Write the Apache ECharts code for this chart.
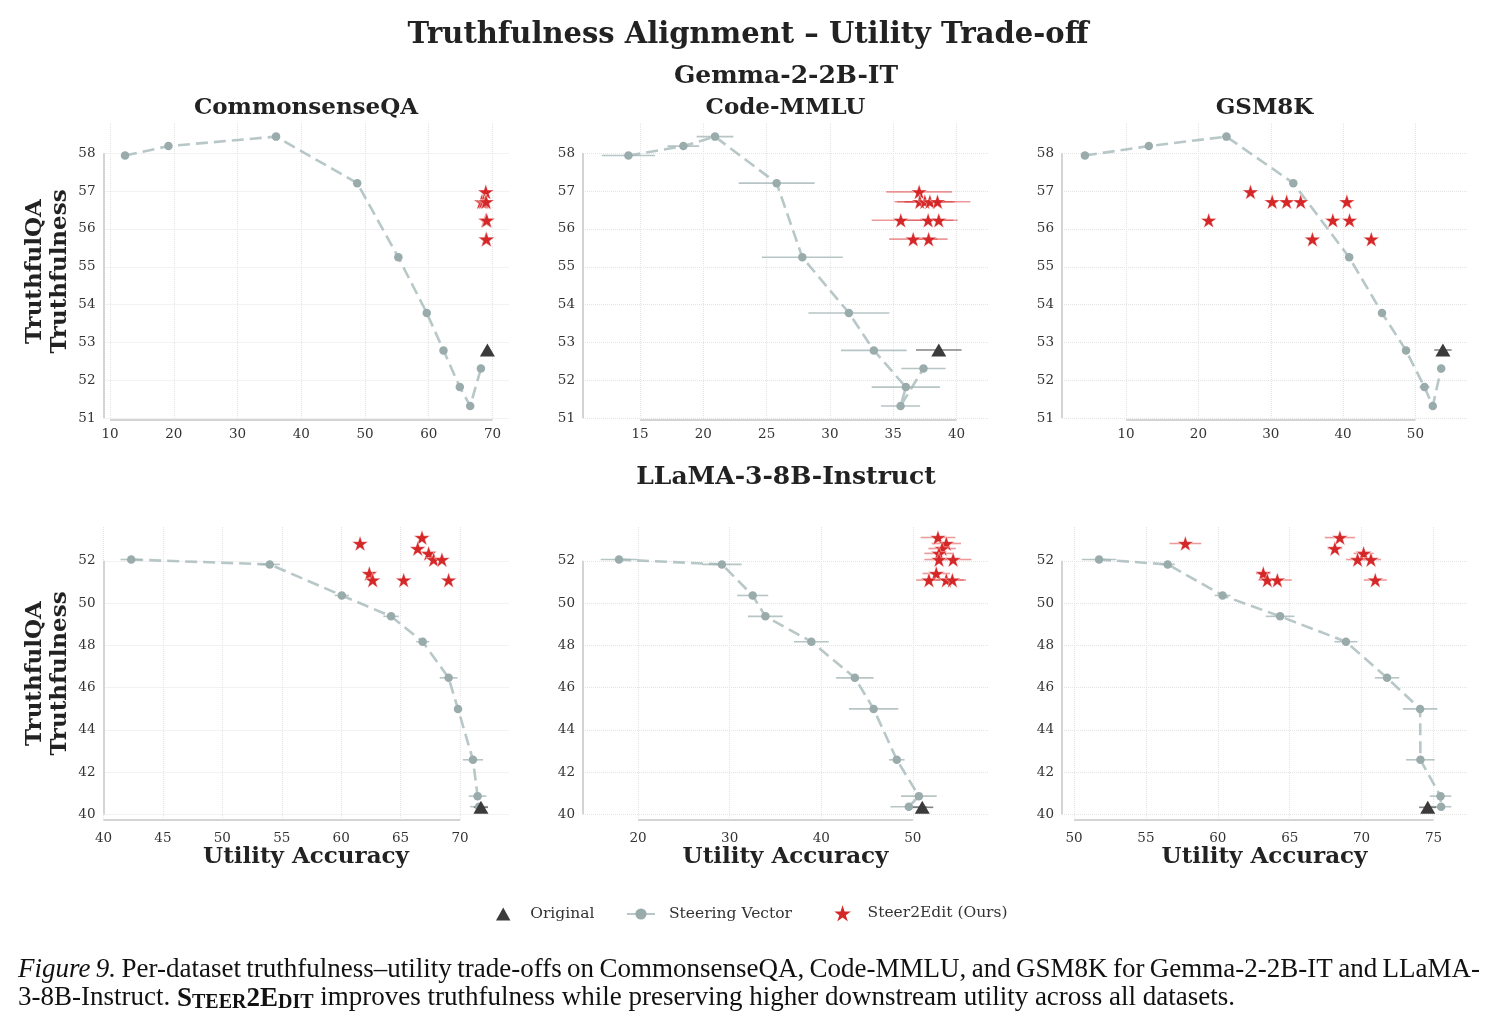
<!DOCTYPE html>
<html><head><meta charset="utf-8">
<script src="https://cdn.jsdelivr.net/npm/echarts@6/dist/echarts.min.js"></script>
<style>html,body{margin:0;padding:0;background:#fff}#c{width:1496px;height:1030px}</style>
</head><body><div id="c"></div><script>
// ---------------- DATA ----------------
const GEMMA_Y_TICKS = [51, 52, 53, 54, 55, 56, 57, 58];
const LLAMA_Y_TICKS = [40, 42, 44, 46, 48, 50, 52];
const CSQA_GEMMA_X_TICKS = [10, 20, 30, 40, 50, 60, 70];
const CODE_GEMMA_X_TICKS = [15, 20, 25, 30, 35, 40];
const GSM_GEMMA_X_TICKS = [10, 20, 30, 40, 50];
const CSQA_LLAMA_X_TICKS = [40, 45, 50, 55, 60, 65, 70];
const CODE_LLAMA_X_TICKS = [20, 30, 40, 50];
const GSM_LLAMA_X_TICKS = [50, 55, 60, 65, 70, 75];

const GEMMA_SV_Y = [57.94, 58.19, 58.44, 57.21, 55.25, 53.78, 52.79, 51.82, 51.32, 52.31];
const GEMMA_STAR_Y = [56.98, 56.72, 56.72, 56.72, 56.72, 56.23, 56.23, 56.23, 55.73, 55.73];
const LLAMA_SV_Y = [52.06, 51.83, 50.36, 49.37, 48.17, 46.46, 44.99, 42.58, 40.86, 40.36];
const LLAMA_STAR_Y = [53.1, 52.82, 52.58, 52.35, 52.06, 52.06, 51.4, 51.09, 51.09, 51.09];

const CSQA_GEMMA_SV_X = [12.36, 19.17, 36.05, 48.78, 55.23, 59.69, 62.31, 64.87, 66.5, 68.18];
const CSQA_GEMMA_SV_ERR = [0.2, 0.25, 0.4, 0.45, 0.25, 0.25, 0.25, 0.3, 0.25, 0.3];
const CSQA_GEMMA_ORIG = [69.2, 52.8, 0.2];
const CSQA_GEMMA_STAR_X = [68.95, 68.3, 68.6, 68.9, 69.0, 68.95, 69.05, 69.1, 69.0, 69.05];
const CSQA_GEMMA_STAR_ERR = [0.3, 0.3, 0.3, 0.3, 0.3, 0.3, 0.3, 0.3, 0.2, 0.2];

const CODE_GEMMA_SV_X = [14.08, 18.42, 20.92, 25.79, 27.82, 31.5, 33.47, 36.0, 35.58, 37.39];
const CODE_GEMMA_SV_ERR = [2.1, 1.25, 1.45, 3.0, 3.2, 3.2, 2.6, 2.7, 1.55, 1.75];
const CODE_GEMMA_ORIG = [38.6, 52.8, 1.8];
const CODE_GEMMA_STAR_X = [37.05, 37.1, 37.5, 37.9, 38.5, 35.6, 37.76, 38.6, 36.58, 37.8];
const CODE_GEMMA_STAR_ERR = [2.6, 2.0, 2.2, 2.0, 2.6, 2.3, 2.0, 1.5, 1.9, 1.5];

const GSM_GEMMA_SV_X = [4.31, 13.14, 23.87, 33.12, 40.84, 45.38, 48.7, 51.25, 52.4, 53.56];
const GSM_GEMMA_SV_ERR = [0.2, 0.3, 0.6, 0.3, 0.3, 0.3, 0.3, 0.7, 0.3, 0.5];
const GSM_GEMMA_ORIG = [53.8, 52.8, 1.2];
const GSM_GEMMA_STAR_X = [27.2, 30.2, 32.2, 34.14, 40.52, 21.42, 38.58, 40.89, 35.76, 43.9];
const GSM_GEMMA_STAR_ERR = [0.4, 0.3, 0.3, 0.3, 0.3, 0.4, 0.3, 0.4, 0.3, 0.3];

const CSQA_LLAMA_SV_X = [42.33, 53.99, 60.05, 64.2, 66.86, 69.04, 69.83, 71.09, 71.48, 71.6];
const CSQA_LLAMA_SV_ERR = [0.9, 0.85, 0.6, 0.65, 0.55, 0.75, 0.3, 0.85, 0.75, 0.75];
const CSQA_LLAMA_ORIG = [71.76, 40.33, 0.6];
const CSQA_LLAMA_STAR_X = [66.8, 61.59, 66.44, 67.36, 67.78, 68.48, 62.37, 62.65, 65.26, 69.04];
const CSQA_LLAMA_STAR_ERR = [0.3, 0.2, 0.4, 0.5, 0.4, 0.3, 0.5, 0.3, 0.3, 0.3];

const CODE_LLAMA_SV_X = [17.91, 29.15, 32.51, 33.9, 38.92, 43.67, 45.72, 48.25, 50.66, 49.56];
const CODE_LLAMA_SV_ERR = [2.0, 2.15, 1.7, 1.9, 1.9, 2.05, 2.7, 0.85, 1.95, 2.0];
const CODE_LLAMA_ORIG = [51.03, 40.33, 1.2];
const CODE_LLAMA_STAR_X = [52.75, 53.66, 53.2, 52.86, 52.86, 54.4, 52.56, 51.76, 53.66, 54.32];
const CODE_LLAMA_STAR_ERR = [1.9, 1.6, 1.5, 1.6, 1.6, 2.0, 1.5, 1.4, 1.9, 1.5];

const GSM_LLAMA_SV_X = [51.74, 56.51, 60.33, 64.33, 68.91, 71.77, 74.07, 74.09, 75.49, 75.53];
const GSM_LLAMA_SV_ERR = [1.2, 0.5, 0.55, 1.0, 0.8, 0.85, 1.2, 1.0, 0.75, 0.7];
const GSM_LLAMA_ORIG = [74.6, 40.33, 0.6];
const GSM_LLAMA_STAR_X = [68.49, 57.74, 68.14, 70.14, 69.72, 70.65, 63.16, 63.44, 64.14, 70.95];
const GSM_LLAMA_STAR_ERR = [1.05, 1.1, 0.5, 0.7, 0.8, 0.7, 0.5, 0.6, 1.0, 0.8];

const DATASETS = ['CommonsenseQA', 'Code-MMLU', 'GSM8K'];
const MODELS = ['Gemma-2-2B-IT', 'LLaMA-3-8B-Instruct'];
const LEGEND_NAMES = ['Original', 'Steering Vector', 'Steer2Edit (Ours)'];

// ---------------- PANELS ----------------
const PANELS = [
  {svX: CSQA_GEMMA_SV_X, svE: CSQA_GEMMA_SV_ERR, svY: GEMMA_SV_Y, orig: CSQA_GEMMA_ORIG, stX: CSQA_GEMMA_STAR_X, stE: CSQA_GEMMA_STAR_ERR, stY: GEMMA_STAR_Y, xT: CSQA_GEMMA_X_TICKS, yT: GEMMA_Y_TICKS},
  {svX: CODE_GEMMA_SV_X, svE: CODE_GEMMA_SV_ERR, svY: GEMMA_SV_Y, orig: CODE_GEMMA_ORIG, stX: CODE_GEMMA_STAR_X, stE: CODE_GEMMA_STAR_ERR, stY: GEMMA_STAR_Y, xT: CODE_GEMMA_X_TICKS, yT: GEMMA_Y_TICKS},
  {svX: GSM_GEMMA_SV_X, svE: GSM_GEMMA_SV_ERR, svY: GEMMA_SV_Y, orig: GSM_GEMMA_ORIG, stX: GSM_GEMMA_STAR_X, stE: GSM_GEMMA_STAR_ERR, stY: GEMMA_STAR_Y, xT: GSM_GEMMA_X_TICKS, yT: GEMMA_Y_TICKS},
  {svX: CSQA_LLAMA_SV_X, svE: CSQA_LLAMA_SV_ERR, svY: LLAMA_SV_Y, orig: CSQA_LLAMA_ORIG, stX: CSQA_LLAMA_STAR_X, stE: CSQA_LLAMA_STAR_ERR, stY: LLAMA_STAR_Y, xT: CSQA_LLAMA_X_TICKS, yT: LLAMA_Y_TICKS},
  {svX: CODE_LLAMA_SV_X, svE: CODE_LLAMA_SV_ERR, svY: LLAMA_SV_Y, orig: CODE_LLAMA_ORIG, stX: CODE_LLAMA_STAR_X, stE: CODE_LLAMA_STAR_ERR, stY: LLAMA_STAR_Y, xT: CODE_LLAMA_X_TICKS, yT: LLAMA_Y_TICKS},
  {svX: GSM_LLAMA_SV_X, svE: GSM_LLAMA_SV_ERR, svY: LLAMA_SV_Y, orig: GSM_LLAMA_ORIG, stX: GSM_LLAMA_STAR_X, stE: GSM_LLAMA_STAR_ERR, stY: LLAMA_STAR_Y, xT: GSM_LLAMA_X_TICKS, yT: LLAMA_Y_TICKS}
];

// layout (pixel boxes and axis ranges)
const COL_LEFT = [103.5, 583, 1062];
const COL_W = 405;
const ROW = [{top: 123, height: 297, yMin: 50.95, yMax: 58.8, xMargin: 7},
             {top: 527, height: 293, yMin: 39.73, yMax: 53.6, xMargin: 11}];
const X_RANGE = [[8.98, 72.51], [10.49, 42.49], [1.14, 57.13], [40.0, 74.08], [13.98, 58.21], [49.16, 77.33]];

const FONT = '"DejaVu Serif", serif';
const STAR = 'path://M50,0 L61.23,34.55 L97.55,34.55 L68.17,55.9 L79.39,90.45 L50,69.1 L20.61,90.45 L31.83,55.9 L2.45,34.55 L38.77,34.55 Z';
const TRI = 'path://M50,0 L100,90 L0,90 Z';

function errBars(gi, xs, ys, es, color, z) {
  return {
    type: 'custom', name: 'err', xAxisIndex: gi, yAxisIndex: gi, z: z, silent: true,
    encode: {x: 0, y: 1},
    data: xs.map((x, j) => [x, ys[j], es[j]]),
    renderItem: function (params, api) {
      const x = api.value(0), y = api.value(1), e = api.value(2);
      const a = api.coord([x - e, y]), b = api.coord([x + e, y]);
      return {type: 'line', shape: {x1: a[0], y1: a[1], x2: b[0], y2: b[1]}, style: {stroke: color, lineWidth: 1.6}};
    }
  };
}

const grids = [], xAxes = [], yAxes = [], series = [];
PANELS.forEach((p, i) => {
  const r = ROW[Math.floor(i / 3)], c = i % 3;
  const [xMin, xMax] = X_RANGE[i];
  grids.push({left: COL_LEFT[c], top: r.top, width: COL_W, height: r.height, containLabel: false, outerBoundsMode: 'none'});
  xAxes.push({
    type: 'value', gridIndex: i, min: xMin, max: xMax,
    axisLine: {show: false}, axisTick: {show: false, customValues: p.xT},
    axisLabel: {customValues: p.xT, fontFamily: FONT, fontSize: 13.5, color: '#333', margin: r.xMargin},
    splitLine: {show: true, lineStyle: {color: '#e4e4e4', type: 'dotted', width: 1}}
  });
  yAxes.push({
    type: 'value', gridIndex: i, min: r.yMin, max: r.yMax,
    axisLine: {show: false}, axisTick: {show: false, customValues: p.yT},
    axisLabel: {customValues: p.yT, fontFamily: FONT, fontSize: 13.5, color: '#333', margin: 8},
    splitLine: {show: true, lineStyle: {color: '#e4e4e4', type: 'dotted', width: 1}}
  });
  series.push(errBars(i, p.svX, p.svY, p.svE, 'rgba(160,178,178,0.75)', 2));
  series.push(errBars(i, p.stX, p.stY, p.stE, 'rgba(222,70,70,0.55)', 2));
  series.push(errBars(i, [p.orig[0]], [p.orig[1]], [p.orig[2]], 'rgba(90,90,90,0.75)', 2));
  series.push({
    type: 'line', name: LEGEND_NAMES[1], xAxisIndex: i, yAxisIndex: i, z: 3,
    data: p.svX.map((x, j) => [x, p.svY[j]]),
    symbol: 'circle', symbolSize: 8.5, showSymbol: true,
    itemStyle: {color: '#9aabac', opacity: 1},
    lineStyle: {color: 'rgba(160,180,180,0.75)', width: 2.6, type: [12, 6]},
    silent: true,
    markLine: {
      silent: true, symbol: ['none', 'none'], label: {show: false},
      lineStyle: {color: '#d4d4d4', width: 2, type: 'solid'},
      emphasis: {disabled: true},
      data: [
        [{coord: [xMin, p.yT[0]]}, {coord: [xMin, p.yT[p.yT.length - 1]]}],
        [{coord: [p.xT[0], r.yMin]}, {coord: [p.xT[p.xT.length - 1], r.yMin]}]
      ]
    }
  });
  series.push({
    type: 'scatter', name: LEGEND_NAMES[2], xAxisIndex: i, yAxisIndex: i, z: 5,
    data: p.stX.map((x, j) => [x, p.stY[j]]),
    symbol: STAR, symbolKeepAspect: true, symbolSize: 16,
    itemStyle: {color: '#d62728', borderColor: '#ffffff', borderWidth: 0.4, opacity: 1},
    silent: true
  });
  series.push({
    type: 'scatter', name: LEGEND_NAMES[0], xAxisIndex: i, yAxisIndex: i, z: 6,
    data: [[p.orig[0], p.orig[1]]],
    symbol: 'triangle', symbolSize: [15, 13],
    itemStyle: {color: '#3b3b3b', opacity: 1},
    silent: true
  });
});

// text elements
const TB = 'bold 23px "DejaVu Serif"';
const TM = 'bold 25px "DejaVu Serif"';
const graphics = [
  {type: 'text', x: 748, y: 35, style: {text: 'Truthfulness Alignment – Utility Trade-off', font: 'bold 29px "DejaVu Serif"', fill: '#222', align: 'center', verticalAlign: 'middle'}},
  {type: 'text', x: 786, y: 76, style: {text: MODELS[0], font: TM, fill: '#222', align: 'center', verticalAlign: 'middle'}},
  {type: 'text', x: 786, y: 477, style: {text: MODELS[1], font: TM, fill: '#222', align: 'center', verticalAlign: 'middle'}}
];
DATASETS.forEach((d, c) => {
  graphics.push({type: 'text', x: COL_LEFT[c] + COL_W / 2, y: 108, style: {text: d, font: TB, fill: '#222', align: 'center', verticalAlign: 'middle'}});
  graphics.push({type: 'text', x: COL_LEFT[c] + COL_W / 2, y: 857, style: {text: 'Utility Accuracy', font: TB, fill: '#222', align: 'center', verticalAlign: 'middle'}});
});
ROW.forEach(r => {
  graphics.push({type: 'text', x: 48, y: r.top + r.height / 2, rotation: Math.PI / 2,
    style: {text: 'TruthfulQA\nTruthfulness', font: TB, lineHeight: 25, fill: '#222', align: 'center', verticalAlign: 'middle'}});
});

// caption: first line justified word by word
const CAP = '"Liberation Serif", "Times New Roman", serif';
const CS = 27;
const CAP_LINE1 = [['Figure', 1], ['9.', 1], ['Per-dataset', 0], ['truthfulness–utility', 0], ['trade-offs', 0], ['on', 0],
  ['CommonsenseQA,', 0], ['Code-MMLU,', 0], ['and', 0], ['GSM8K', 0], ['for', 0], ['Gemma-2-2B-IT', 0], ['and', 0], ['LLaMA-', 0]];
const mctx = document.createElement('canvas').getContext('2d');
const capFont = (it) => (it ? 'italic ' : '') + CS + 'px ' + CAP;
const widths = CAP_LINE1.map(([w, it]) => { mctx.font = capFont(it); return mctx.measureText(w).width; });
const L1_LEFT = 18, L1_RIGHT = 1480;
const gap = (L1_RIGHT - L1_LEFT - widths.reduce((a, b) => a + b, 0)) / (CAP_LINE1.length - 1);
let cx = L1_LEFT;
CAP_LINE1.forEach(([w, it], k) => {
  graphics.push({type: 'text', x: cx, y: 970, style: {text: w, font: capFont(it), fill: '#111', align: 'left', verticalAlign: 'middle'}});
  cx += widths[k] + gap;
});
graphics.push({type: 'text', x: 18, y: 998, style: {
  text: '3-8B-Instruct. {b|S}{s|TEER}{b|2E}{s|DIT} improves truthfulness while preserving higher downstream utility across all datasets.',
  font: CS + 'px ' + CAP, fill: '#111', align: 'left', verticalAlign: 'middle',
  rich: {
    b: {font: 'bold ' + CS + 'px ' + CAP, fill: '#111', verticalAlign: 'bottom', lineHeight: 30},
    s: {font: 'bold 20px ' + CAP, fill: '#111', verticalAlign: 'bottom', lineHeight: 26}
  }
}});

function legendAt(name, left, top, itemH, padLeft, icon) {
  const d = {name: name};
  if (icon) d.icon = icon;
  return {
    data: [d], top: top, left: left, itemWidth: 28, itemHeight: itemH, symbolKeepAspect: true,
    textStyle: {fontFamily: FONT, fontSize: 15.5, color: '#333', padding: [0, 0, 0, padLeft], lineHeight: 20},
    lineStyle: {type: 'solid'}, selectedMode: false
  };
}

const option = {
  animation: false,
  backgroundColor: '#ffffff',
  grid: grids, xAxis: xAxes, yAxis: yAxes, series: series,
  legend: [
    legendAt(LEGEND_NAMES[0], 491, 899, 13, 8, TRI),
    legendAt(LEGEND_NAMES[1], 621, 899, 14, 9, null),
    legendAt(LEGEND_NAMES[2], 825, 896, 22, 6, STAR)
  ],
  graphic: graphics
};
const chart = echarts.init(document.getElementById('c'));
chart.setOption(option);
</script></body></html>
